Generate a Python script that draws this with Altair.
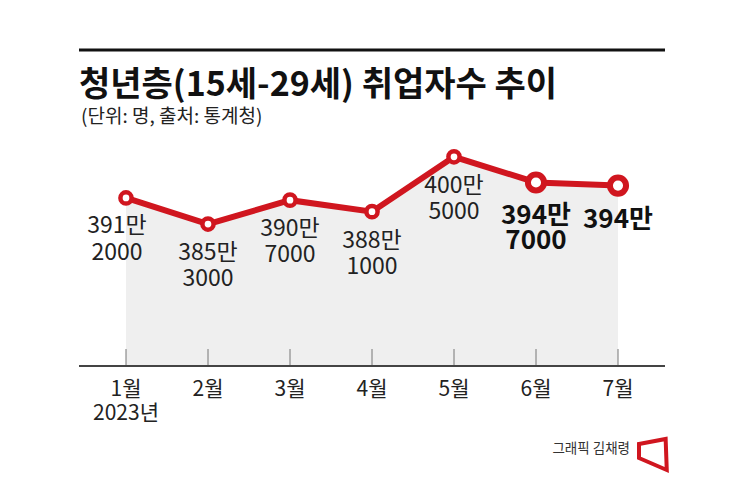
import altair as alt
import pandas as pd

# ---- data ----
months = [1, 2, 3, 4, 5, 6, 7]
month_labels = ["1월", "2월", "3월", "4월", "5월", "6월", "7월"]
year_label = "2023년"
values = [3912000, 3853000, 3907000, 3881000, 4005000, 3947000, 3940000]
highlight_months = [6, 7]
title_text = "청년층(15세-29세) 취업자수 추이"
subtitle_text = "(단위: 명, 출처: 통계청)"
credit_text = "그래픽 김채령"

FONT = "Noto Sans CJK KR"
RED = "#d0161f"


def fmt(v):
    man, rest = divmod(v, 10000)
    return f"{man}만" + (f"\n{rest}" if rest else "")


df = pd.DataFrame({
    "m": months,
    "month_label": month_labels,
    "v": values,
    "lab": [fmt(v) for v in values],
})

regular_months = [m for m in months if m not in highlight_months]

x = alt.X("m:Q", scale=alt.Scale(domain=[1, 7], range=[118, 610]), axis=None)
y = alt.Y("v:Q", scale=alt.Scale(domain=[3800000, 4050000], range=[239.5, 128.9]), axis=None)

base = alt.Chart(df)

# area fills downward and is clipped at the bottom of the plot area (= the baseline)
area = base.mark_area(color="#efefef", clip=True).encode(x=x, y=y)

ticks = base.mark_rule(color="#777777", strokeWidth=1).encode(
    x=x, y=alt.value(341), y2=alt.value(358)
)

one = pd.DataFrame({"k": [0]})
baseline = alt.Chart(one).mark_rule(color="#444444", strokeWidth=2).encode(
    x=alt.value(71), x2=alt.value(657), y=alt.value(358)
)
top_rule = alt.Chart(one).mark_rule(color="#111111", strokeWidth=3).encode(
    x=alt.value(71), x2=alt.value(657), y=alt.value(42)
)

line = base.mark_line(color=RED, strokeWidth=6).encode(x=x, y=y)

pts_small = base.transform_filter(
    alt.FieldOneOfPredicate(field="m", oneOf=regular_months)
).mark_point(shape="circle", filled=True, fill="white", stroke=RED,
             strokeWidth=4.5, size=125, opacity=1).encode(x=x, y=y)

pts_big = base.transform_filter(
    alt.FieldOneOfPredicate(field="m", oneOf=highlight_months)
).mark_point(shape="circle", filled=True, fill="white", stroke=RED,
             strokeWidth=6, size=260, opacity=1).encode(x=x, y=y)

lab_first = base.transform_filter(alt.datum.m == 1).mark_text(
    font=FONT, fontSize=23, color="#222222", baseline="top", align="center",
    dy=17, dx=-9, lineBreak="\n", lineHeight=27
).encode(x=x, y=y, text="lab:N")

lab_reg = base.transform_filter(
    alt.FieldOneOfPredicate(field="m", oneOf=[m for m in regular_months if m != 1])
).mark_text(
    font=FONT, fontSize=23, color="#222222", baseline="top", align="center",
    dy=18, lineBreak="\n", lineHeight=26
).encode(x=x, y=y, text="lab:N")

lab_bold = base.transform_filter(
    alt.FieldOneOfPredicate(field="m", oneOf=highlight_months)
).mark_text(
    font=FONT, fontSize=26, fontWeight="bold", color="#111111", baseline="top",
    align="center", dy=21, lineBreak="\n", lineHeight=25
).encode(x=x, y=y, text="lab:N")

month_text = base.mark_text(
    font=FONT, fontSize=21, color="#222222", baseline="alphabetic", align="center"
).encode(x=x, y=alt.value(388), text="month_label:N")

year_text = alt.Chart(pd.DataFrame({"m": [1], "t": [year_label]})).mark_text(
    font=FONT, fontSize=21, color="#222222", baseline="alphabetic", align="center"
).encode(x=x, y=alt.value(412), text="t:N")

title = alt.Chart(pd.DataFrame({"t": [title_text]})).mark_text(
    font=FONT, fontSize=34, fontWeight="bold", color="#111111",
    align="left", baseline="alphabetic"
).encode(x=alt.value(71), y=alt.value(88), text="t:N")

subtitle = alt.Chart(pd.DataFrame({"t": [subtitle_text]})).mark_text(
    font=FONT, fontSize=19, color="#222222", align="left", baseline="alphabetic"
).encode(x=alt.value(73), y=alt.value(115), text="t:N")

credit = alt.Chart(pd.DataFrame({"t": [credit_text]})).mark_text(
    font=FONT, fontSize=13.5, color="#333333", align="right", baseline="alphabetic"
).encode(x=alt.value(622), y=alt.value(445), text="t:N")

logo = alt.Chart(one).mark_point(
    shape="M -0.875 -0.66 L 0.79 -0.97 L 0.86 0.97 L -0.875 0.22 Z",
    size=1024, filled=True, fill="white", stroke=RED, strokeWidth=4, opacity=1
).encode(x=alt.value(645), y=alt.value(446.5))

chart = alt.layer(
    area, ticks, baseline, top_rule, line, pts_small, pts_big,
    lab_first, lab_reg, lab_bold, month_text, year_text,
    title, subtitle, credit, logo
).properties(
    width=729, height=358,
    padding={"left": 0, "top": 0, "right": 0, "bottom": 117},
    autosize=alt.AutoSizeParams(type="none"),
    background="white"
).configure_view(stroke=None)

chart.save("out.html", embed_options={"renderer": "svg", "actions": False})
